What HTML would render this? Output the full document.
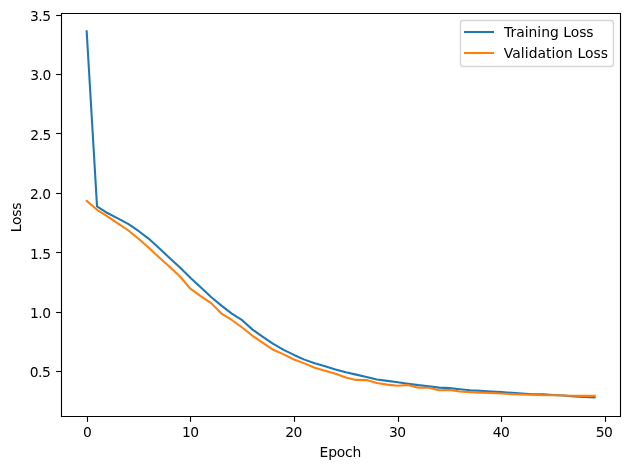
<!DOCTYPE html>
<html lang="en">
<head>
<meta charset="utf-8">
<title>Training and Validation Loss</title>
<style>
html,body{margin:0;padding:0;background:#ffffff;}
body{width:630px;height:469px;overflow:hidden;}
svg text{white-space:pre;}
</style>
</head>
<body>
<svg width="630" height="469" viewBox="0 0 630 469" style="display:block">
<rect x="0" y="0" width="630" height="469" fill="#ffffff"/>
<g stroke="#000000" stroke-width="1.11" fill="none">
<path d="M87.5 416.5 V421.86"/>
<path d="M190.5 416.5 V421.86"/>
<path d="M294.5 416.5 V421.86"/>
<path d="M398.5 416.5 V421.86"/>
<path d="M501.5 416.5 V421.86"/>
<path d="M605.5 416.5 V421.86"/>
<path d="M61.5 371.5 H56.14"/>
<path d="M61.5 312.5 H56.14"/>
<path d="M61.5 252.5 H56.14"/>
<path d="M61.5 193.5 H56.14"/>
<path d="M61.5 133.5 H56.14"/>
<path d="M61.5 74.5 H56.14"/>
<path d="M61.5 15.5 H56.14"/>
</g>
<g style="font-family:'DejaVu Sans','Liberation Sans',sans-serif;font-size:13.889px;letter-spacing:-0.5px" fill="#000000">
<text x="87.07" y="437.18" text-anchor="middle">0</text>
<text x="190.22" y="437.08" text-anchor="middle">10</text>
<text x="293.62" y="437.08" text-anchor="middle">20</text>
<text x="397.22" y="437.06" text-anchor="middle">30</text>
<text x="501.11" y="437.03" text-anchor="middle">40</text>
<text x="604.04" y="437.17" text-anchor="middle">50</text>
<text x="50.37" y="376.66" text-anchor="end">0.5</text>
<text x="50.61" y="318.15" text-anchor="end">1.0</text>
<text x="50.57" y="258.73" text-anchor="end">1.5</text>
<text x="50.62" y="199.26" text-anchor="end">2.0</text>
<text x="50.93" y="139.86" text-anchor="end">2.5</text>
<text x="50.75" y="80.42" text-anchor="end">3.0</text>
<text x="50.57" y="20.98" text-anchor="end">3.5</text>
</g>
<g style="font-family:'DejaVu Sans','Liberation Sans',sans-serif;font-size:13.889px" fill="#000000">
<text x="340.36" y="457.03" text-anchor="middle" style="letter-spacing:-0.2px">Epoch</text>
<text x="21.1" y="217.49" text-anchor="middle" transform="rotate(-90 21.1 217.49)" style="letter-spacing:-0.25px">Loss</text>
</g>
<g fill="none" stroke-width="2.08" stroke-linejoin="round" stroke-linecap="square">
<path d="M86.67 31.28 L97.04 206.36 L107.41 213.02 L117.77 218.36 L128.14 223.83 L138.5 230.96 L148.87 238.81 L159.24 248.32 L169.6 257.95 L179.97 267.45 L190.33 277.79 L200.7 287.36 L211.07 296.93 L221.43 305.66 L231.8 313.57 L242.16 320.23 L252.53 329.62 L262.89 336.81 L273.26 343.88 L283.63 349.82 L293.99 354.93 L304.36 359.64 L314.72 363.28 L325.09 366.16 L335.46 369.44 L345.82 372.24 L356.19 374.63 L366.55 377.03 L376.92 379.43 L387.29 380.85 L397.65 382.22 L408.02 383.68 L418.38 385.11 L428.75 386.27 L439.12 387.62 L449.48 388.1 L459.85 389.25 L470.21 390.21 L480.58 390.88 L490.94 391.56 L501.31 392.13 L511.68 392.8 L522.04 393.5 L532.41 394.34 L542.77 394.25 L553.14 394.92 L563.51 395.58 L573.87 396.45 L584.24 396.93 L594.6 397.42" stroke="#1f77b4"/>
<path d="M86.67 200.89 L97.04 209.81 L107.41 216.46 L117.77 223.48 L128.14 230.25 L138.5 238.69 L148.87 247.72 L159.24 257.59 L169.6 266.74 L179.97 276.49 L190.33 288.61 L200.7 296.1 L211.07 303.11 L221.43 313.57 L231.8 319.99 L242.16 327.48 L252.53 335.8 L262.89 342.81 L273.26 349.82 L283.63 354.34 L293.99 359.45 L304.36 363.37 L314.72 367.8 L325.09 370.67 L335.46 373.83 L345.82 377.51 L356.19 379.91 L366.55 380.1 L376.92 383.08 L387.29 384.65 L397.65 385.78 L408.02 384.92 L418.38 387.8 L428.75 387.7 L439.12 390.3 L449.48 389.93 L459.85 391.56 L470.21 392.13 L480.58 392.61 L490.94 392.99 L501.31 393.48 L511.68 394.15 L522.04 394.44 L532.41 394.82 L542.77 395.23 L553.14 395.3 L563.51 395.58 L573.87 395.77 L584.24 395.88 L594.6 395.88" stroke="#ff7f0e"/>
</g>
<path d="M61.5 13.5 H620.5 V416.5 H61.5 Z" fill="none" stroke="#000000" stroke-width="1.11" stroke-linejoin="miter"/>
<rect x="460.5" y="20.5" width="153" height="46" rx="2.78" ry="2.78" fill="#ffffff" fill-opacity="0.8" stroke="#cccccc" stroke-opacity="0.8" stroke-width="1.39"/>
<g fill="none" stroke-width="2.08" stroke-linecap="butt">
<path d="M464 32 H494" stroke="#1f77b4"/>
<path d="M464 53 H494" stroke="#ff7f0e"/>
</g>
<g style="font-family:'DejaVu Sans','Liberation Sans',sans-serif;font-size:13.889px" fill="#000000">
<text x="504.01" y="37.15">Training Loss</text>
<text x="503.73" y="58.43" style="letter-spacing:0.07px">Validation Loss</text>
</g>
</svg>
</body>
</html>
